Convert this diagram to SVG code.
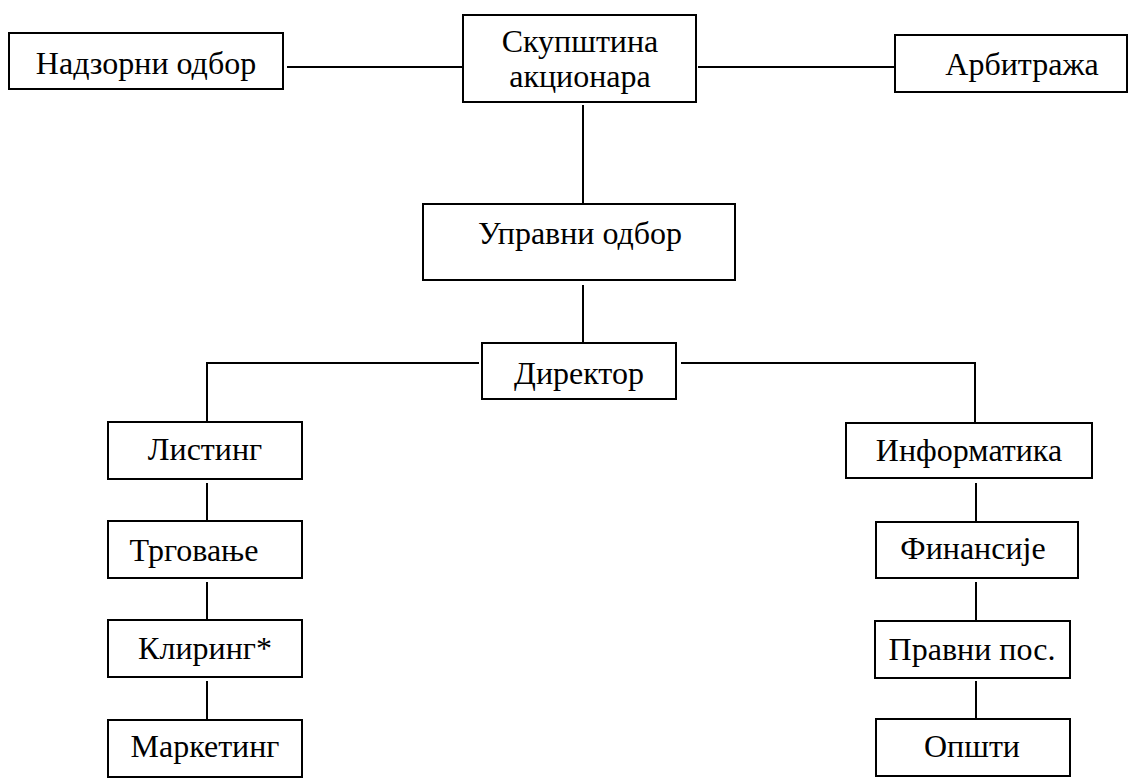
<svg xmlns="http://www.w3.org/2000/svg" width="1136" height="778" viewBox="0 0 1136 778">
<style>
rect{fill:#fff;stroke:#000;stroke-width:2}
.t{font-size:32px;fill:#000;text-anchor:middle}
.c{fill:none;stroke:#000;stroke-width:2}
</style>
<rect x="0" y="0" width="1136" height="778" style="stroke:none"/>
<g id="connectors">
<line class="c" x1="287" y1="67" x2="462" y2="67"/>
<line class="c" x1="698" y1="67" x2="894" y2="67"/>
<line class="c" x1="583" y1="105" x2="583" y2="203"/>
<line class="c" x1="583" y1="285" x2="583" y2="343"/>
<polyline class="c" points="479,363 207,363 207,422"/>
<polyline class="c" points="681,363 975,363 975,423"/>
<line class="c" x1="207" y1="483" x2="207" y2="521"/>
<line class="c" x1="207" y1="582" x2="207" y2="620"/>
<line class="c" x1="207" y1="681" x2="207" y2="720"/>
<line class="c" x1="976" y1="483" x2="976" y2="522"/>
<line class="c" x1="976" y1="582" x2="976" y2="621"/>
<line class="c" x1="976" y1="681" x2="976" y2="719"/>
</g>
<g font-family="Liberation Serif, DejaVu Serif, serif" class="t">
<g id="nadzorni"><rect x="9" y="33" width="274" height="56"/><text x="146" y="74">Надзорни одбор</text></g>
<g id="skupstina"><rect x="463" y="15" width="233" height="87"/><text x="580" y="52">Скупштина</text><text x="580" y="87">акционара</text></g>
<g id="arbitraza"><rect x="895" y="35" width="232" height="57"/><text x="1022" y="75">Арбитража</text></g>
<g id="upravni"><rect x="423" y="204" width="312" height="76"/><text x="580" y="244">Управни одбор</text></g>
<g id="direktor"><rect x="482" y="343" width="194" height="56"/><text x="579" y="384">Директор</text></g>
<g id="listing"><rect x="108" y="422" width="194" height="57"/><text x="205" y="460">Листинг</text></g>
<g id="trgovanje"><rect x="108" y="521" width="194" height="57"/><text x="194" y="561">Трговање</text></g>
<g id="kliring"><rect x="108" y="620" width="194" height="57"/><text x="205" y="659">Клиринг*</text></g>
<g id="marketing"><rect x="108" y="720" width="194" height="57"/><text x="205" y="757">Маркетинг</text></g>
<g id="informatika"><rect x="846" y="423" width="246" height="55"/><text x="969" y="461">Информатика</text></g>
<g id="finansije"><rect x="876" y="522" width="202" height="56"/><text x="973" y="559">Финансије</text></g>
<g id="pravni"><rect x="875" y="621" width="195" height="57"/><text x="972" y="660">Правни пос.</text></g>
<g id="opsti"><rect x="876" y="719" width="194" height="57"/><text x="972" y="757">Општи</text></g>
</g>
</svg>
